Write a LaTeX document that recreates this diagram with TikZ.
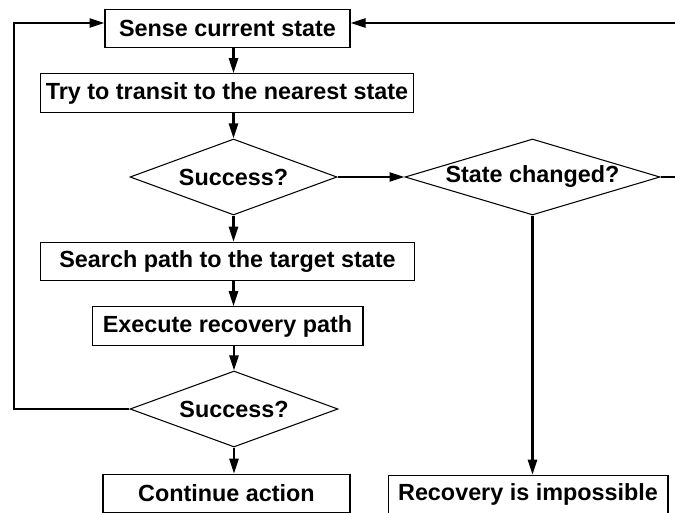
\documentclass[tikz,border=0pt]{standalone}
\usepackage{fontspec}
\setmainfont{Liberation Sans}
\usetikzlibrary{shapes.geometric,arrows.meta}

\tikzset{
  stepbox/.style={draw,line width=0.6pt,inner sep=0pt,minimum height=0.77cm,
    font=\bfseries\fontsize{13.3}{15}\selectfont},
  decision/.style={draw,diamond,line width=0.6pt,inner sep=0pt,
    minimum height=1.52cm,font=\bfseries\fontsize{13.3}{15}\selectfont},
  flow/.style={line width=1.4pt,-{Triangle[length=0.3cm,width=0.18cm]}},
}

\begin{document}
\begin{tikzpicture}[x=0.02cm,y=-0.02cm]
   \path[use as bounding box,clip] (0,0) rectangle (675,513);

   % main column
   \node[stepbox,minimum width=4.9cm] (sense) at (227.5,28.5) {Sense current state};
   \node[stepbox,minimum width=7.48cm] (try) at (227,93) {Try to transit to the nearest state};
   \node[decision,aspect=2.8,minimum width=4.14cm] (succ1) at (233.5,177) {Success?};
   \node[stepbox,minimum width=7.5cm] (search) at (227.5,261.5) {Search path to the target state};
   \node[stepbox,minimum width=5.42cm] (exec) at (227.5,326) {Execute recovery path};
   \node[decision,aspect=2.8,minimum width=4.16cm] (succ2) at (234,409) {Success?};
   \node[stepbox,minimum width=4.94cm] (cont) at (226.5,493.5) {Continue action};

   % side column
   \node[decision,aspect=3.5,minimum width=5.1cm] (chg) at (532.5,177) {State changed?};
   \node[stepbox,minimum width=5.6cm] (fail) at (528,494.5) {Recovery is impossible};

   \coordinate (lft) at (14,0);
   \coordinate (rgt) at (690,0);

   \draw[flow] (sense.south -| succ1.north) -- (try.north -| succ1.north);
   \draw[flow] (try.south -| succ1.north) -- (succ1.north);
   \draw[flow] (succ1.south) -- (search.north -| succ1.south);
   \draw[flow] (search.south -| succ1.south) -- (exec.north -| succ1.south);
   \draw[flow] (exec.south -| succ2.north) -- (succ2.north);
   \draw[flow] (succ2.south) -- (cont.north -| succ2.south);
   \draw[flow] (succ1.east) -- (chg.west);
   \draw[flow] (chg.south) -- (fail.north -| chg.south);

   % loops back to the top
   \draw[flow] (succ2.west) -- (succ2.west -| lft) |- ([yshift=0.11cm]sense.west);
   \draw[flow] (chg.east) -- (chg.east -| rgt) |- ([yshift=0.11cm]sense.east);
\end{tikzpicture}
\end{document}
